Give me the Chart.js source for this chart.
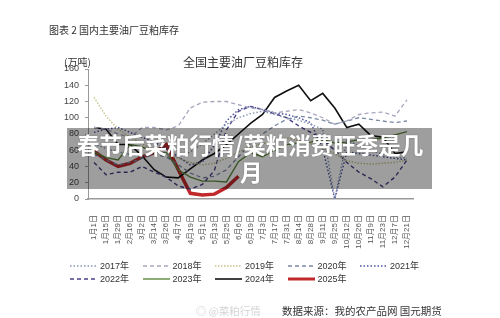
<!DOCTYPE html>
<html>
<head>
<meta charset="utf-8">
<script src="https://cdn.jsdelivr.net/npm/chart.js@4"></script>
<style>
body { margin: 0; width: 500px; height: 318px; position: relative; overflow: hidden; background: #fff; font-family: "Noto Sans CJK SC", sans-serif; color: #333; }
#c { position: absolute; left: 0; top: 0; }
.txt { position: absolute; white-space: nowrap; line-height: 1; }
.item { position: absolute; display: flex; align-items: center; font-size: 9px; color: #333; font-family: "Liberation Sans", "Noto Sans CJK SC", sans-serif; }
.item svg { margin-right: 3px; }
#band { position: absolute; left: 67px; top: 128px; width: 365px; height: 61px; background: rgba(0,0,0,0.38); }
.big { position: absolute; color: #fff; font-weight: bold; font-size: 22.5px; line-height: 27px; white-space: nowrap; text-shadow: 0 0 2px rgba(0,0,0,0.25); }
</style>
</head>
<body>
<canvas id="c" width="500" height="318"></canvas>

<div class="txt" style="left:49px;top:25px;font-size:10px;">图表 2 国内主要油厂豆粕库存</div>
<div class="txt" style="left:64px;top:57px;font-size:10px;">(万吨)</div>
<div class="txt" style="left:183px;top:56px;font-size:12px;">全国主要油厂豆粕库存</div>
<div id="legend"></div>
<div class="txt" style="left:196px;top:306px;font-size:10.5px;color:#d4d4d4;">◎ @菜粕行情</div>
<div class="txt" style="left:282px;top:306px;font-size:10.5px;">数据来源：我的农产品网 国元期货</div>

<div id="band"></div>
<div class="big" style="left:77px;top:131px;">春节后菜粕行情/菜粕消费旺季是几</div>
<div class="big" style="left:240px;top:158px;">月</div>

<script>
// 横轴日期
const dates = ['1月1日', '1月15日', '1月29日', '2月16日', '3月2日', '3月14日', '3月26日', '4月7日', '4月19日',
    '5月1日', '5月13日', '5月25日', '6月6日', '6月19日', '7月3日', '7月17日', '7月31日', '8月14日', '8月28日',
    '9月11日', '9月25日', '10月12日', '10月26日', '11月9日', '11月23日', '12月7日', '12月21日'];

const y2017 = [68, 62, 58, 55, 52, 58, 56, 52, 58, 68, 80, 92, 100, 105, 108, 104, 100, 97, 92, 86, 0, 72, 66, 60, 55, 52, 50];
const y2018 = [88, 86, 80, 76, 88, 88, 85, 90, 112, 119, 120, 120, 116, 112, 110, 106, 108, 110, 106, 100, 92, 96, 104, 106, 107, 102, 122];
const y2019 = [125, 102, 86, 76, 68, 60, 55, 50, 45, 42, 44, 50, 58, 64, 68, 72, 75, 72, 68, 62, 56, 47, 44, 43, 44, 45, 48];
const y2020 = [55, 48, 42, 45, 50, 55, 52, 42, 32, 26, 28, 36, 52, 68, 80, 90, 98, 102, 100, 97, 92, 96, 100, 98, 96, 94, 96];
const y2021 = [82, 86, 88, 82, 76, 70, 62, 52, 42, 46, 66, 96, 110, 114, 110, 106, 104, 100, 94, 62, 0, 58, 56, 54, 52, 50, 48];
const y2022 = [45, 30, 33, 33, 40, 33, 27, 16, 12, 18, 35, 85, 108, 114, 110, 105, 100, 90, 82, 73, 60, 45, 33, 25, 15, 27, 48];
const y2023 = [58, 51, 48, 67, 64, 58, 57, 36, 27, 22, 22, 21, 46, 57, 52, 60, 67, 69, 70, 73, 69, 70, 73, 73, 75, 79, 83];
const y2024 = [88, 86, 67, 67, 53, 36, 27, 26, 37, 48, 56, 67, 80, 93, 104, 125, 133, 140, 121, 130, 112, 88, 92, 78, 76, 56, 58];
const y2025 = [59, 48, 40, 44, 52, 57, 67, 36, 7, 5, 6, 14, 28];

const fontFam = '"Liberation Sans", "Noto Sans CJK SC", sans-serif';

function ds(label, data, color, width, dash) {
    return { label: label, data: data, borderColor: color, backgroundColor: color, borderWidth: width, borderDash: dash, fill: false };
}

const chart = new Chart(document.getElementById('c').getContext('2d'), {
    type: 'line',
    data: {
        labels: dates,
        datasets: [
            ds('2017年', y2017, '#8595b0', 1.4, [1.5, 2]),
            ds('2018年', y2018, '#aaa5be', 1.3, [4, 3]),
            ds('2019年', y2019, '#c9c38a', 1.4, [1.5, 1.5]),
            ds('2020年', y2020, '#7889a3', 1.3, [4, 3]),
            ds('2021年', y2021, '#4f54a0', 1.5, [1.5, 2]),
            ds('2022年', y2022, '#4a3f88', 1.4, [4, 3]),
            ds('2023年', y2023, '#5e8a3c', 1.4, []),
            ds('2024年', y2024, '#111111', 1.6, []),
            ds('2025年', y2025, '#c0282a', 3.5, [])
        ]
    },
    options: {
        responsive: false,
        animation: false,
        layout: { padding: { left: 0, top: 69, right: 87, bottom: 0 } },
        elements: { point: { radius: 0 }, line: { tension: 0 } },
        plugins: { legend: { display: false }, tooltip: { enabled: false } },
        scales: {
            x: {
                offset: true,
                grid: { display: false },
                border: { color: '#9a9a9a', width: 1.5, dash: [1.5, 1] },
                ticks: { autoSkip: false, minRotation: 90, maxRotation: 90, padding: 8, color: '#555', font: { size: 8, family: fontFam } },
                afterFit: function (s) { s.height = 119; }
            },
            y: {
                min: 0,
                max: 160,
                grid: { drawOnChartArea: false, tickLength: 3, color: '#999' },
                border: { color: '#999' },
                ticks: { stepSize: 20, padding: 6, color: '#444', font: { size: 9, family: fontFam } },
                afterFit: function (s) { s.width = 88; }
            }
        }
    }
});

// 图例
const legendBox = document.getElementById('legend');
chart.data.datasets.forEach(function (d, i) {
    const item = document.createElement('div');
    item.className = 'item';
    item.style.left = (70 + (i % 5) * 72.5) + 'px';
    item.style.top = (i < 5 ? 259 : 272) + 'px';
    item.innerHTML = '<svg width="27" height="8"><line x1="0" y1="4" x2="27" y2="4" stroke="' + d.borderColor +
        '" stroke-width="' + Math.min(d.borderWidth, 3) + '" stroke-dasharray="' + d.borderDash.join(',') + '"/></svg><span>' + d.label + '</span>';
    legendBox.appendChild(item);
});
</script>
</body>
</html>
